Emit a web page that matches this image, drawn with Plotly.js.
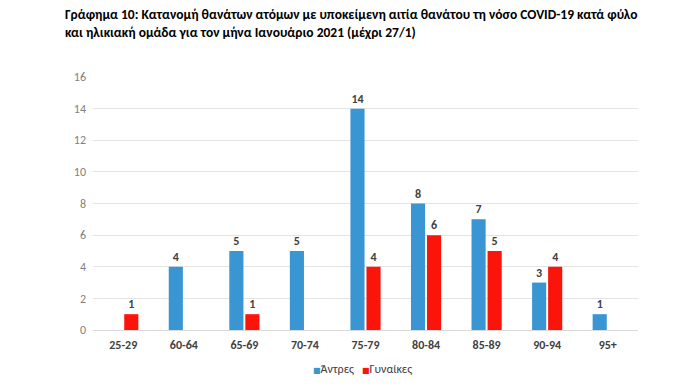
<!DOCTYPE html>
<html>
<head>
<meta charset="utf-8">
<script src="https://cdn.plot.ly/plotly-3.0.1.min.js"></script>
<style>html,body{margin:0;padding:0;background:#fff}#chart{width:695px;height:388px}</style>
</head>
<body>
<div id="chart"></div>
<script>
const categories = ["25-29","60-64","65-69","70-74","75-79","80-84","85-89","90-94","95+"];
const men = [null,4,5,5,14,8,7,3,1];
const women = [1,null,1,null,4,6,5,4,null];
const seriesNames = ["Άντρες","Γυναίκες"];
const seriesColors = ["#3a96d2","#fa140a"];
const yTicks = [0,2,4,6,8,10,12,14,16];
const titleText = "Γράφημα 10: Κατανομή θανάτων ατόμων με υποκείμενη αιτία θανάτου τη νόσο COVID-19 κατά φύλο<br>και ηλικιακή ομάδα για τον μήνα Ιανουάριο 2021 (μέχρι 27/1)";

const FONT = "Carlito, 'Liberation Sans Narrow', 'Liberation Sans', sans-serif";

const traces = [men, women].map((vals, i) => ({
  type:"bar", name:seriesNames[i], x:categories, y:vals, marker:{color:seriesColors[i]},
  text:vals.map(v=>v==null?"":String(v)), textposition:"outside", cliponaxis:false,
  textfont:{family:FONT, size:12, color:"#404040", weight:"bold"}, showlegend:false
}));

// legend drawn as text items (small square + label), positioned below the axis
const legendX = [0.441, 0.540];
const legendAnn = seriesNames.map((n, i) => ({
  xref:"paper", yref:"paper", x:legendX[i], y:-0.154, xanchor:"center", yanchor:"middle",
  showarrow:false,
  text:"<span style='color:" + seriesColors[i] + ";font-family:DejaVu Sans;font-size:8px'>■</span>" + n,
  font:{family:FONT, size:12, color:"#404040"}
}));

const layout = {
  width:695, height:388,
  margin:{l:93, r:57, t:77, b:58, autoexpand:false},
  paper_bgcolor:"#fff", plot_bgcolor:"#fff",
  font:{family:FONT, color:"#595959"},
  title:{text:titleText, xref:"container", yref:"container", x:65/695, xanchor:"left",
         y:1-19/388, yanchor:"top", font:{family:FONT, size:13.5, color:"#000", weight:"bold"}},
  barmode:"group", bargap:0.47, bargroupgap:0.12,
  xaxis:{type:"category", showgrid:false, showline:true, linecolor:"#d9d9d9", linewidth:1,
         ticks:"", ticklabelstandoff:4, tickfont:{family:FONT, size:12, color:"#404040", weight:"bold"}, fixedrange:true},
  yaxis:{range:[0,16], tickvals:yTicks, showgrid:true, gridcolor:"#e3e3e3", gridwidth:1,
         zeroline:false, showline:false, ticks:"", ticklen:0, ticklabelstandoff:6,
         tickfont:{family:FONT, size:12, color:"#7f7f7f"}, fixedrange:true},
  annotations:legendAnn,
  showlegend:false
};

Plotly.newPlot("chart", traces, layout, {displayModeBar:false, staticPlot:true});
</script>
</body>
</html>
